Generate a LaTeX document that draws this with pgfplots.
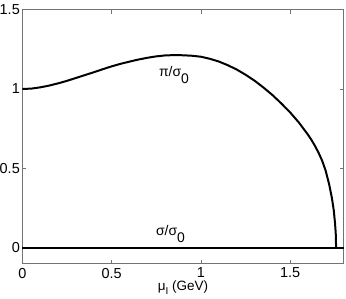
\documentclass[border=0pt]{standalone}
\usepackage{pgfplots}
\pgfplotsset{compat=1.18}
\usepackage{fontspec}
\setmainfont{Liberation Sans}

\begin{document}
\begin{tikzpicture}
\begin{axis}[
  name=main,
  scale only axis,
  width=321bp, height=254bp,
  xmin=0, xmax=1.8,
  ymin=-0.1, ymax=1.5,
  xtick={0,0.5,1,1.5},
  ytick={0,0.5,1,1.5},
  axis line style={black!55, line width=0.6pt},
  tick style={black!55, line width=0.6pt},
  major tick length=4bp,
  tick align=inside,
  /pgf/number format/assume math mode=true,
  ticklabel style={font=\fontsize{14.5}{16}\selectfont, black},
  xticklabel style={yshift=-3bp, inner sep=1bp},
  yticklabel style={xshift=1bp},
  xlabel={μ\raisebox{-0.55ex}{\fontsize{10}{11}\selectfont I} (GeV)},
  xlabel style={font=\fontsize{13.5}{15}\selectfont, inner sep=0.5bp, yshift=-1bp},
  clip=false,
]
% pi / sigma_0
\addplot[black, line width=2pt] coordinates {
  (0,1.0) (0.05,1.002) (0.1,1.01) (0.15,1.021) (0.2,1.035) (0.25,1.051)
  (0.3,1.069) (0.35,1.087) (0.4,1.105) (0.45,1.124) (0.5,1.142) (0.55,1.158)
  (0.6,1.172) (0.65,1.185) (0.7,1.196) (0.75,1.205) (0.8,1.211) (0.85,1.213)
  (0.9,1.212) (0.95,1.209) (1.0,1.203) (1.05,1.19) (1.1,1.173) (1.15,1.15)
  (1.2,1.123) (1.25,1.09) (1.3,1.053) (1.35,1.01) (1.4,0.963) (1.45,0.91)
  (1.5,0.853) (1.55,0.788) (1.6,0.713) (1.62,0.679) (1.64,0.641) (1.66,0.598)
  (1.68,0.548) (1.70,0.484) (1.72,0.395) (1.735,0.31) (1.745,0.235)
  (1.752,0.155) (1.756,0.09) (1.758,0.0)
};
% sigma / sigma_0
\addplot[black, line width=2pt] coordinates {
  (0,0) (0.5,0) (1.0,0) (1.5,0) (1.8,0)
};
\node[font=\fontsize{14}{15}\selectfont] at (axis cs:0.85,1.09)
  {π/σ\raisebox{-0.5em}{0}};
\node[font=\fontsize{14}{15}\selectfont] at (axis cs:0.83,0.085)
  {σ/σ\raisebox{-0.5em}{0}};
\end{axis}
\pgfresetboundingbox
\path ([xshift=-22.3bp,yshift=-35.1bp]main.south west)
  rectangle ([xshift=2.4bp,yshift=9.5bp]main.north east);
\end{tikzpicture}
\end{document}
